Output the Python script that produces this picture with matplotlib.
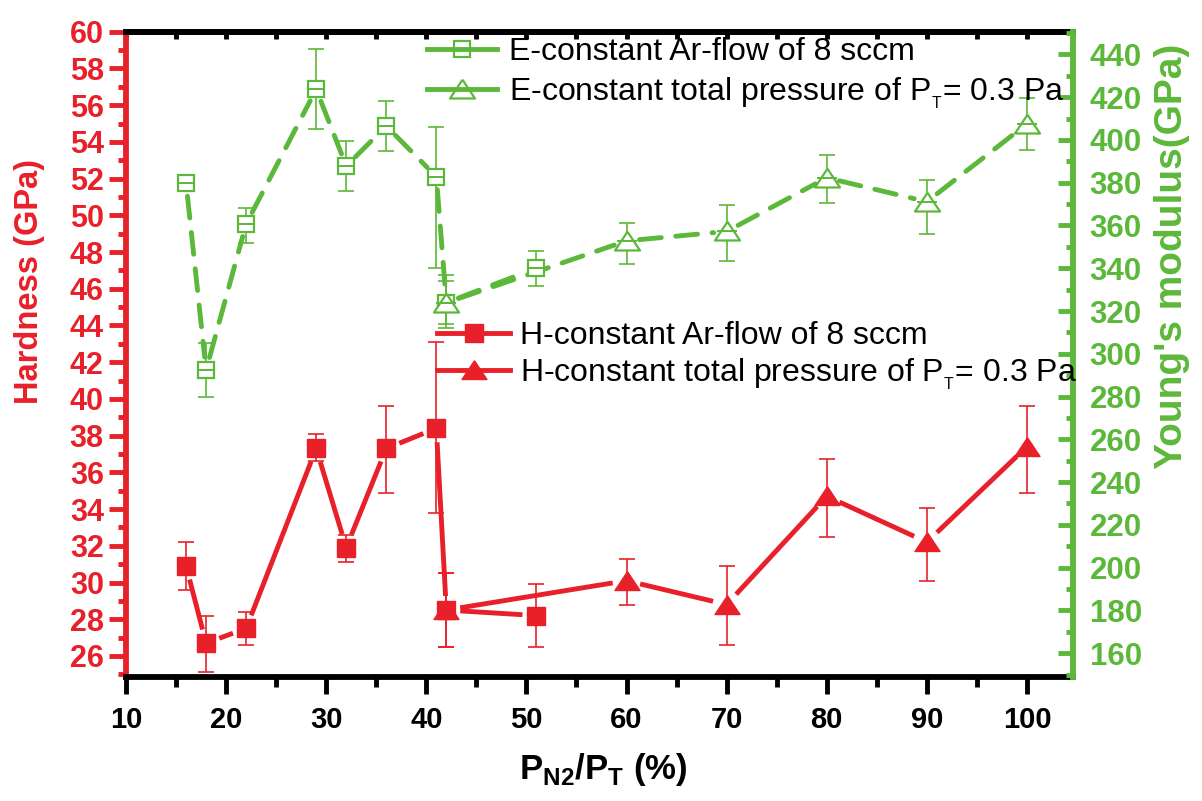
import numpy as np
import matplotlib
matplotlib.use("Agg")
import matplotlib.pyplot as plt
from matplotlib.lines import Line2D
from matplotlib.ticker import MultipleLocator

plt.rcParams['font.family'] = ['Liberation Sans', 'DejaVu Sans']
plt.rcParams['mathtext.fontset'] = 'custom'
plt.rcParams['mathtext.rm'] = 'Liberation Sans'
plt.rcParams['mathtext.bf'] = 'Liberation Sans:bold'

# ---- data ----
x_ar = [16, 18, 22, 29, 32, 36, 41, 42, 51]
x_pt = [42, 60, 70, 80, 90, 100]

H_ar = [30.9, 26.7, 27.5, 37.3, 31.9, 37.3, 38.4, 28.5, 28.2]
H_ar_lo = [1.3, 1.6, 0.9, 0.7, 0.8, 2.4, 4.6, 2.0, 1.7]
H_ar_up = [1.3, 1.5, 0.9, 0.8, 0.7, 2.3, 4.7, 2.0, 1.7]

H_pt = [28.5, 30.1, 28.8, 34.7, 32.2, 37.4]
H_pt_lo = [2.0, 1.3, 2.2, 2.2, 2.1, 2.5]
H_pt_up = [2.0, 1.2, 2.1, 2.0, 1.85, 2.2]

E_ar = [379.7, 292.4, 360.7, 423.7, 387.8, 406.5, 382.8, 323.9, 340.0]
E_ar_lo = [2, 12.7, 9.0, 18.6, 11.7, 11.7, 42.8, 10, 8.1]
E_ar_up = [2, 12.6, 7.6, 18.8, 11.7, 11.8, 23.4, 10, 8.1]

E_pt = [323.9, 352.8, 357.2, 382.3, 371.1, 407.5]
E_pt_lo = [12, 10.9, 13.7, 11.7, 15.1, 12.2]
E_pt_up = [13, 8.3, 12.2, 10.5, 10.0, 12.1]

xticks = [10, 20, 30, 40, 50, 60, 70, 80, 90, 100]
RED = '#e8202a'
GREEN = '#5cb83a'

tri = [(0, 0.78), (-1, -0.72), (1, -0.72), (0, 0.78)]

fig = plt.figure(figsize=(12.02, 8.01), dpi=100)
ax = fig.add_axes([126/1202, 1-676.7/801, (1073-126)/1202, (676.7-31.7)/801])
ax2 = ax.twinx()

ax.set_xlim(10, 104.6)
ax.set_ylim(24.87, 60)
ax2.set_ylim(149.0, 450.6)


def gapped_line(a, xs, ys, gap, **kw):
    """Draw connecting line with a small gap around each marker (Origin style)."""
    T = a.transData
    pts = T.transform(np.column_stack([xs, ys]))
    inv = T.inverted()
    for p0, p1 in zip(pts[:-1], pts[1:]):
        d = p1 - p0
        L = np.hypot(*d)
        if L <= 2 * gap:
            continue
        u = d / L
        q = inv.transform(np.array([p0 + u * gap, p1 - u * gap]))
        a.plot(q[:, 0], q[:, 1], **kw)


# ---- hardness (left) ----
ax.errorbar(x_ar, H_ar, yerr=[H_ar_lo, H_ar_up], fmt='none', ecolor=RED,
            elinewidth=1.2, capsize=5.5, capthick=1.2, zorder=2)
ax.errorbar(x_pt, H_pt, yerr=[H_pt_lo, H_pt_up], fmt='none', ecolor=RED,
            elinewidth=1.2, capsize=5.5, capthick=1.2, zorder=2)
gapped_line(ax, x_ar, H_ar, 14, color=RED, lw=3.5, solid_capstyle='butt', zorder=3)
gapped_line(ax, x_pt, H_pt, 14, color=RED, lw=3.5, solid_capstyle='butt', zorder=3)
ax.plot(x_ar, H_ar, ls='none', marker='s', ms=13, mfc=RED, mec=RED, zorder=4)
ax.plot(x_pt, H_pt, ls='none', marker=tri, ms=18, mfc=RED, mec=RED, zorder=4)

# ---- modulus (right) ----
ax2.errorbar(x_ar, E_ar, yerr=[E_ar_lo, E_ar_up], fmt='none', ecolor=GREEN,
             elinewidth=1.2, capsize=5.5, capthick=1.2, zorder=2)
ax2.errorbar(x_pt, E_pt, yerr=[E_pt_lo, E_pt_up], fmt='none', ecolor=GREEN,
             elinewidth=1.2, capsize=5.5, capthick=1.2, zorder=2)
gapped_line(ax2, x_ar, E_ar, 13, color=GREEN, lw=3.5, dashes=(4.5, 3),
            dash_capstyle='round', zorder=3)
gapped_line(ax2, x_pt, E_pt, 13, color=GREEN, lw=3.5, dashes=(4.5, 3),
            dash_capstyle='round', zorder=3)
ax2.plot(x_ar, E_ar, ls='none', marker='s', ms=12,
         mfc='white', mec=GREEN, mew=1.6, zorder=4)
ax2.plot(x_ar, E_ar, ls='none', marker='_', ms=12, mec=GREEN, mew=1.4, zorder=5)
ax2.plot(x_pt, E_pt, ls='none', marker=tri, ms=18,
         mfc='white', mec=GREEN, mew=1.6, zorder=4)
ax2.plot(x_pt, E_pt, ls='none', marker='_', ms=14, mec=GREEN, mew=1.4, zorder=5)

# ---- axes ----
ax.set_xticks(xticks)
ax.xaxis.set_minor_locator(MultipleLocator(5))
ax.set_yticks(np.arange(26, 61, 2))
ax.yaxis.set_minor_locator(MultipleLocator(1))
ax2.set_yticks(np.arange(160, 441, 20))
ax2.yaxis.set_minor_locator(MultipleLocator(10))
ax.set_xlim(10, 104.6)
ax.set_ylim(24.87, 60)
ax2.set_ylim(149.0, 450.6)

ax.spines['left'].set_color(RED)
ax.spines['left'].set_linewidth(4.2)
for s in ['bottom', 'top']:
    ax.spines[s].set_color('black')
    ax.spines[s].set_linewidth(4.2)
ax.spines['right'].set_visible(False)
ax2.spines['right'].set_color(GREEN)
ax2.spines['right'].set_linewidth(4.2)
ax2.spines['left'].set_visible(False)
ax2.spines['top'].set_visible(False)
ax2.spines['bottom'].set_visible(False)

ax.tick_params(axis='y', which='major', direction='out', length=12, width=3.5,
               color=RED, labelcolor=RED, labelsize=22, pad=4)
ax.tick_params(axis='y', which='minor', direction='out', length=6, width=3.5, color=RED)
ax.tick_params(axis='x', which='major', direction='out', length=12, width=3.5,
               color='black', labelsize=21, pad=9)
ax.tick_params(axis='x', which='minor', direction='out', length=7, width=3.5, color='black')
ax2.tick_params(axis='y', which='major', direction='in', length=11, width=3.5,
                color=GREEN, labelcolor=GREEN, labelsize=22.5, pad=12)
ax2.tick_params(axis='y', which='minor', direction='in', length=5, width=3.5, color=GREEN)

for lab in ax.get_xticklabels() + ax.get_yticklabels() + ax2.get_yticklabels():
    lab.set_fontweight('bold')

sec = ax.secondary_xaxis('top')
sec.set_xticks(np.arange(10, 105, 5))
sec.tick_params(direction='in', length=5, width=3.5, color='black', labeltop=False)
sec.spines['top'].set_linewidth(4.2)

# ---- labels ----
fig.text(30/1202, 1-282/801, 'Hardness (GPa)', rotation=90, color=RED,
         fontsize=23.5, fontweight='bold', ha='center', va='center')
fig.text(1172/1202, 1-256/801, "Young's modulus(GPa)", rotation=90, color=GREEN,
         fontsize=28, fontweight='bold', ha='center', va='center')
fig.text(603/1202, 1-770/801, r'P$_\mathregular{N2}$/P$_\mathregular{T}$ (%)',
         fontsize=25, fontweight='bold', ha='center', va='center')

# ---- legends ----
hE = [Line2D([], [], color=GREEN, lw=3.5, marker='s', ms=12, mfc='none', mec=GREEN, mew=1.6),
      Line2D([], [], color=GREEN, lw=3.5, marker=tri, ms=18, mfc='none', mec=GREEN, mew=1.6)]
legE = fig.legend(hE, ['E-constant Ar-flow of 8 sccm',
                       r'E-constant total pressure of P$_\mathregular{_T}$= 0.3 Pa'],
                  loc='upper left', bbox_to_anchor=(427/1202, 1-37/801), frameon=False,
                  fontsize=23, handlelength=2.2, handletextpad=0.37, borderpad=0,
                  borderaxespad=0, labelspacing=0.26)
hH = [Line2D([], [], color=RED, lw=3.5, marker='s', ms=13, mfc=RED, mec=RED),
      Line2D([], [], color=RED, lw=3.5, marker=tri, ms=18, mfc=RED, mec=RED)]
legH = fig.legend(hH, ['H-constant Ar-flow of 8 sccm',
                       r'H-constant total pressure of P$_\mathregular{_T}$= 0.3 Pa'],
                  loc='upper left', bbox_to_anchor=(437/1202, 1-321/801), frameon=False,
                  fontsize=23, handlelength=2.3, handletextpad=0.3, borderpad=0,
                  borderaxespad=0, labelspacing=0.15)

fig.savefig('out.png', dpi=100)
